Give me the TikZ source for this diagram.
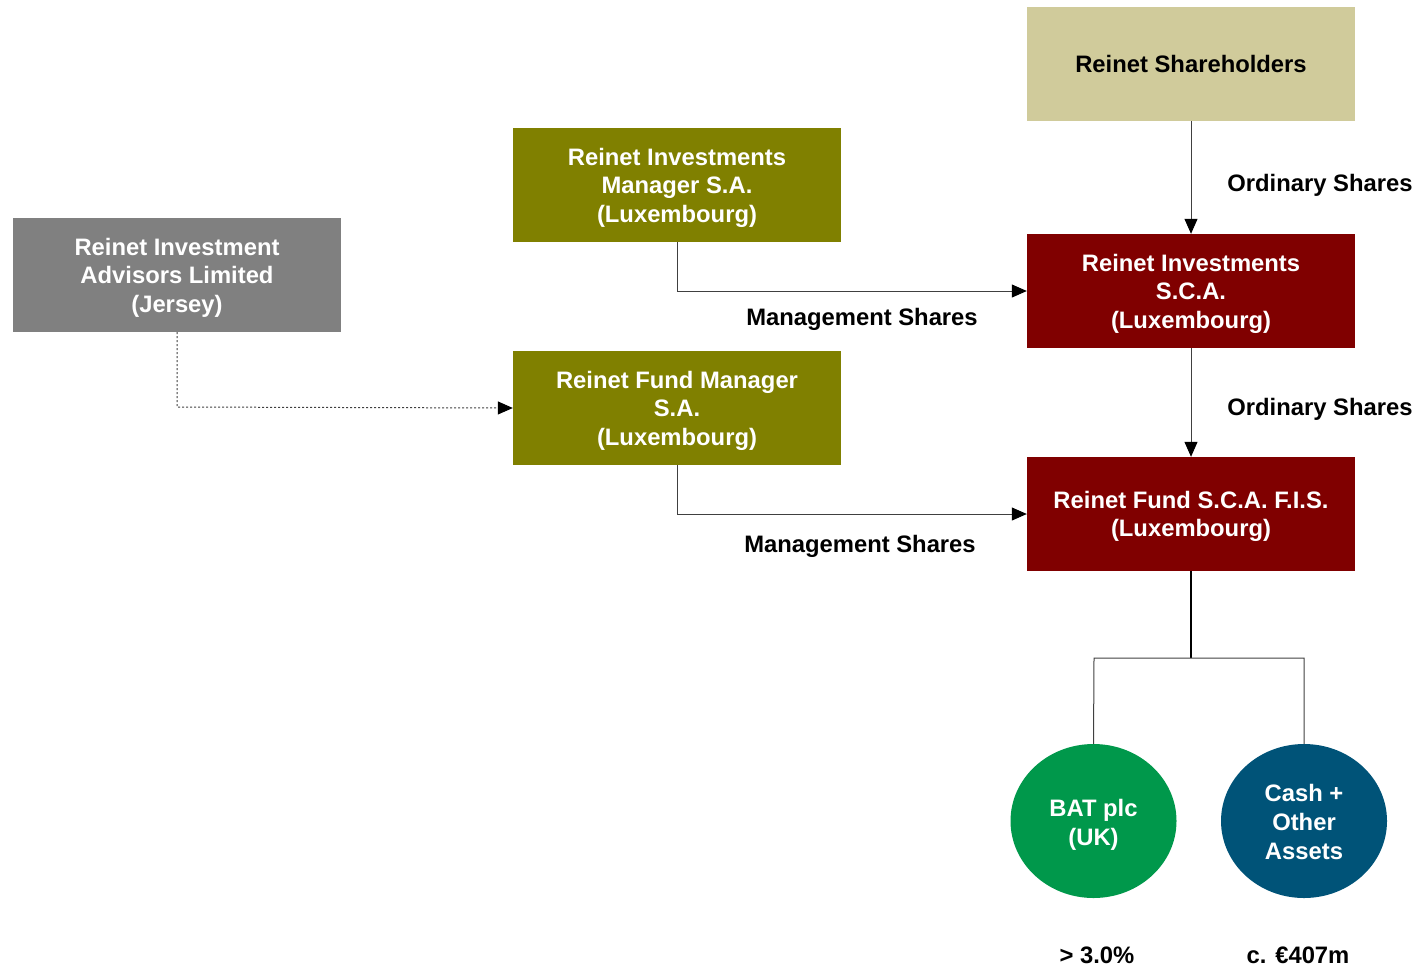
\documentclass[tikz,border=0pt]{standalone}
\usepackage{fontspec}
\setmainfont{Liberation Sans}
\usetikzlibrary{arrows.meta,shapes.geometric}
\definecolor{tan}{HTML}{D0CB9B}
\definecolor{olive}{HTML}{808000}
\definecolor{grayb}{HTML}{808080}
\definecolor{maroon}{HTML}{800000}
\definecolor{batgreen}{HTML}{00984B}
\definecolor{cashblue}{HTML}{005378}
\definecolor{linec}{HTML}{404040}
\begin{document}
\begin{tikzpicture}[x=1pt,y=-1pt,
  box/.style={rectangle,minimum width=328pt,minimum height=114pt,inner sep=0pt},
  boxtext/.style={align=center,inner sep=0pt,yshift=-2.5pt,
    font=\fontsize{23.8}{28.6}\selectfont\bfseries,text=white},
  circ/.style={ellipse,minimum width=166pt,minimum height=154pt,inner sep=0pt,align=center,
    font=\fontsize{23.8}{28.6}\selectfont\bfseries,text=white},
  lbl/.style={font=\fontsize{23.8}{28.6}\selectfont\bfseries,text=black,inner sep=0pt},
  conn/.style={draw=linec,line width=1pt,-{Triangle[length=15pt,width=13pt,color=black]}},
  plain/.style={draw=linec,line width=1pt},
  thick conn/.style={draw=black,line width=2pt}
]
\useasboundingbox (0,0) rectangle (1420,970);
\node[box,fill=tan,label={[boxtext,text=black,yshift=2.5pt]center:Reinet Shareholders}] (sh) at (1191,64) {};
\node[box,fill=olive,label={[boxtext]center:{Reinet Investments\\Manager S.A.\\(Luxembourg)}}] (rim) at (677,185) {};
\node[box,fill=grayb,label={[boxtext]center:{Reinet Investment\\Advisors Limited\\(Jersey)}}] (ria) at (177,275) {};
\node[box,fill=maroon,label={[boxtext]center:{Reinet Investments\\S.C.A.\\(Luxembourg)}}] (ris) at (1191,291) {};
\node[box,fill=olive,label={[boxtext]center:{Reinet Fund Manager\\S.A.\\(Luxembourg)}}] (rfm) at (677,408) {};
\node[box,fill=maroon,label={[boxtext]center:{Reinet Fund S.C.A. F.I.S.\\(Luxembourg)}}] (rf) at (1191,514) {};
\node[circ,fill=batgreen,label={[boxtext,yshift=-1.5pt]center:{BAT plc\\(UK)}}] (bat) at (1093.5,821) {};
\node[circ,fill=cashblue,label={[boxtext,yshift=1.5pt]center:{Cash +\\Other\\Assets}}] (cash) at (1304,821) {};

\coordinate (c1) at (677,291);
\coordinate (c2) at (177,407);
\coordinate (c3) at (677,514);
\coordinate (br) at (1191,658);
\coordinate (bl) at (1094,658);
\coordinate (bc) at (1304,658);

\draw[conn] (sh.south) -- (ris.north);
\draw[conn] (ris.south) -- (rf.north);
\draw[conn] (rim.south) -- (c1) -- (ris.west);
\draw[conn] (rfm.south) -- (c3) -- (rf.west);
\draw[conn,dash pattern=on 2pt off 2pt] (ria.south) -- (c2) -- (rfm.west);
\draw[thick conn] (rf.south) -- (br);
\draw[plain] (bat.north) -- (bl) -- (bc) -- (cash.north);

\node[lbl,yshift=-2pt] (l1) at (1320,183) {Ordinary Shares};
\node[lbl,yshift=-2pt] (l2) at (1320,407) {Ordinary Shares};
\node[lbl,yshift=-2pt] (l3) at (862,317) {Management Shares};
\node[lbl,yshift=-2pt] (l4) at (860,544) {Management Shares};
\node[lbl] (l5) at (1097,955) {> 3.0\%};
\node[lbl] (l6) at (1298,955) {c. €407m};
\end{tikzpicture}
\end{document}
